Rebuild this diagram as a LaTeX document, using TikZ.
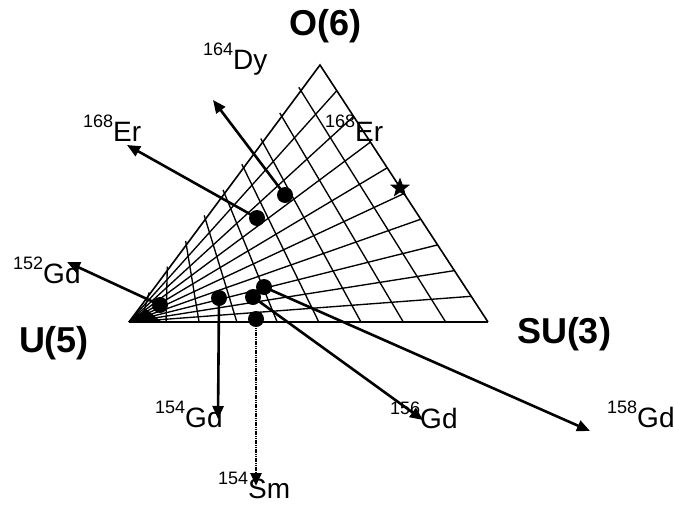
\documentclass[tikz,border=0pt]{standalone}
\usepackage{fontspec}
\setmainfont{Liberation Sans}
\usetikzlibrary{arrows.meta,calc,shapes.geometric}
\newcommand\isolab[2]{\raisebox{14pt}{\fontsize{18}{18}\selectfont #1}#2}
\begin{document}
\begin{tikzpicture}[x=1pt,y=-1pt,
  gridline/.style={line width=1.35pt},
  edge/.style={line width=1.6pt},
  arr/.style={line width=2.6pt,-{Triangle[length=13pt,width=11pt]}},
  dotarr/.style={line width=2.6pt,dash pattern=on 1.2pt off 0.6pt,-{Triangle[length=13pt,width=11pt]}},
  nucdot/.style={circle,fill=black,inner sep=0pt,minimum size=16pt},
  lbl/.style={inner sep=0pt,anchor=base west,font=\fontsize{28}{28}\selectfont},
  big/.style={inner sep=0pt,anchor=base,font=\fontsize{36}{36}\selectfont\bfseries}]
\useasboundingbox (0,0) rectangle (674,509);
% triangle vertices
\coordinate (U5) at (129,322);
\coordinate (SU3) at (488,322);
\coordinate (O6) at (320,65);
% fan lines (constant chi)
\foreach \j in {1,...,9}{
  \coordinate (R\j) at ($(SU3)!\j/10!(O6)$);
  \draw[gridline] (U5) -- (R\j);
}
% zeta lines
\foreach \k in {1,...,9}{
  \pgfmathsetmacro\t{\k/10}
  \pgfmathsetmacro\bx{488-359*(1.18*\t-0.18*\t^6)}
  \coordinate (L\k) at ($(O6)!\t!(U5)$);
  \coordinate (B\k) at (\bx,322);
  \draw[gridline] ($(L\k)!-4pt!(B\k)$) -- (B\k);
}
\draw[edge] (U5) -- (O6) -- (SU3);
\draw[line width=2.4pt] (U5) -- (SU3);
\fill (U5) -- (146,309) -- (162,322) -- cycle;
% corner labels
\node[big] (lO6) at (325,35) {O(6)};
\node[big] (lU5) at (54,352) {U(5)};
\node[big] (lSU3) at (564,343) {SU(3)};
% isotope labels
\node[lbl] (nDy) at (203,69) {\isolab{164}{Dy}};
\node[lbl] (nEr) at (83,141) {\isolab{168}{Er}};
\node[lbl] (nEr2) at (325,141) {\isolab{168}{Er}};
\node[lbl] (nGd152) at (13,283) {\isolab{152}{Gd}};
\node[lbl] (nGd154) at (155,427) {\isolab{154}{Gd}};
\node[lbl] (nSm) at (218,498) {\isolab{154}{Sm}};
\node[lbl] (nGd156) at (390,428) {\isolab{156}{Gd}};
\node[lbl] (nGd158) at (607,427) {\isolab{158}{Gd}};
% markers
\node[nucdot] (mDy) at (285,195) {};
\node[nucdot] (mEr) at (257,218) {};
\node[nucdot] (mGd152) at (160,305) {};
\node[nucdot] (mGd154) at (219,298) {};
\node[nucdot] (mGd156) at (253,297) {};
\node[nucdot] (mGd158) at (264,287) {};
\node[nucdot] (mSm) at (256,319) {};
\node[star,star points=5,star point ratio=2.4,fill=black,inner sep=0pt,minimum size=21pt] (star) at (400,188) {};
% arrow tips
\coordinate (tDy) at (213,100);
\coordinate (tEr) at (127,145);
\coordinate (tGd152) at (67,262);
\coordinate (tGd154) at (218,419);
\coordinate (tSm) at (256,486);
\coordinate (tGd156) at (423,420);
\coordinate (tGd158) at (590,431);
% arrows
\draw[arr] (mDy.center) -- (tDy);
\draw[arr] (mEr.center) -- (tEr);
\draw[arr] (mGd152.center) -- (tGd152);
\draw[arr] (mGd154.center) -- (tGd154);
\draw[dotarr] (mSm.center) -- (tSm);
\draw[arr] (mGd156.center) -- (tGd156);
\draw[arr] (mGd158.center) -- (tGd158);
\end{tikzpicture}
\end{document}
